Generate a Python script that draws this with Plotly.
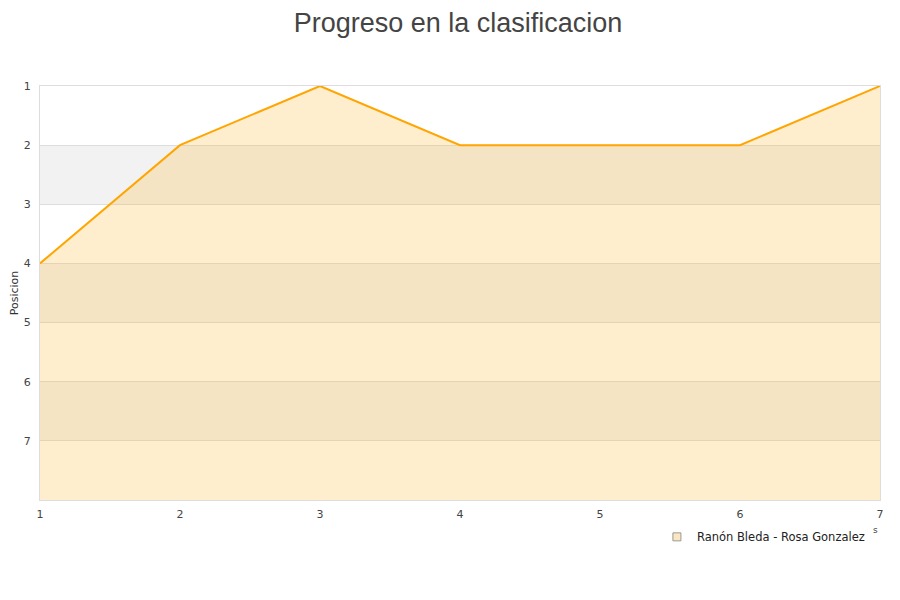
import plotly.graph_objects as go

# Data
jornadas = [1, 2, 3, 4, 5, 6, 7]
posicion = [4, 2, 1, 2, 2, 2, 1]
pareja = "Ranón Bleda - Rosa Gonzalez"
y_ticks = [1, 2, 3, 4, 5, 6, 7]
ultima_pos = 8

TITLE = "Progreso en la clasificacion"
LINE_COLOR = "#ffa500"
FILL_COLOR = "rgba(255,182,40,0.23)"
BAND_COLOR = "#f2f2f2"
GRID_COLOR = "#dddddd"
TICK_FONT = dict(family="DejaVu Sans", size=11, color="#444444")

fig = go.Figure()

# invisible baseline so the area fills down to the bottom of the reversed axis
fig.add_trace(go.Scatter(
    x=jornadas, y=[ultima_pos] * len(jornadas),
    mode="lines", line=dict(width=0, color=LINE_COLOR),
    showlegend=False, hoverinfo="skip",
))
fig.add_trace(go.Scatter(
    x=jornadas, y=posicion, name=pareja,
    mode="lines", line=dict(color=LINE_COLOR, width=2),
    fill="tonexty", fillcolor=FILL_COLOR,
    showlegend=False,
))
# legend swatch (square marker)
fig.add_trace(go.Scatter(
    x=[None], y=[None], name=pareja, mode="markers",
    marker=dict(symbol="square", size=8, color="#fbe6c0",
                line=dict(color="#999999", width=1)),
))

# alternating bands 2-3, 4-5, 6-7
for lo in y_ticks[1::2]:
    fig.add_shape(type="rect", xref="paper", yref="y", x0=0, x1=1,
                  y0=lo, y1=lo + 1, fillcolor=BAND_COLOR, line_width=0,
                  layer="below")

fig.add_annotation(x=1.0, y=-0.09, xref="paper", yref="paper", text="s",
                   showarrow=False, font=dict(size=9, color="#444"))

fig.update_layout(
    title=dict(text=TITLE, x=0.5, xanchor="center", y=0.975, yanchor="middle",
               font=dict(family="Liberation Sans", size=27, color="#444444")),
    width=900, height=600,
    margin=dict(l=32, r=28, t=78, b=108),
    paper_bgcolor="white", plot_bgcolor="white",
    font=dict(family="DejaVu Sans", size=11, color="#444444"),
    legend=dict(orientation="h", x=0.988, xanchor="right", y=-0.089,
                yanchor="middle", font=dict(size=11.5, color="#222"),
                bgcolor="rgba(0,0,0,0)"),
    showlegend=True,
)
fig.update_xaxes(range=[1, 7], tickvals=jornadas, showgrid=False,
                 zeroline=False, showline=True, mirror=True, automargin=False,
                 linecolor=GRID_COLOR, ticks="", ticklabelstandoff=4,
                 tickfont=TICK_FONT)
fig.update_yaxes(range=[ultima_pos, 1], tickvals=y_ticks, showgrid=True,
                 gridcolor=GRID_COLOR, zeroline=False, showline=True,
                 mirror=True, linecolor=GRID_COLOR, ticks="", automargin=False,
                 title=dict(text="Posicion", font=dict(size=11, color="#333"),
                            standoff=4),
                 ticklabelstandoff=6, tickfont=TICK_FONT)

fig.write_html("out.html")
